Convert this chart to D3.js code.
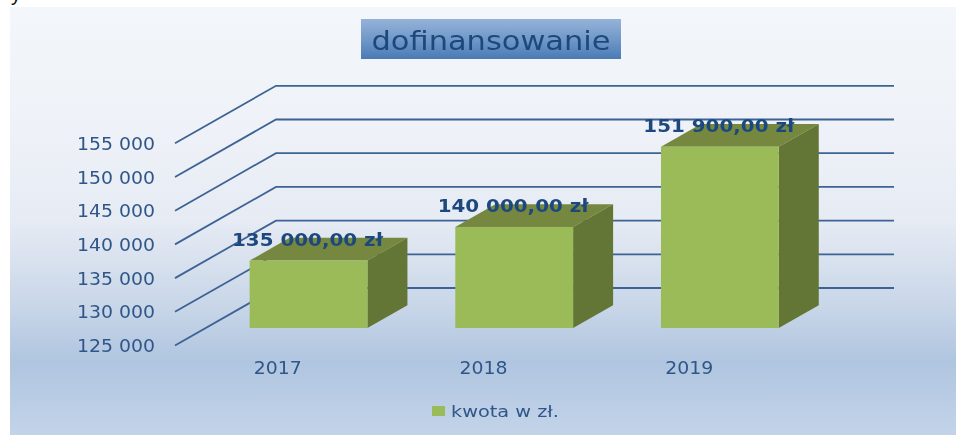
<!DOCTYPE html>
<html><head><meta charset="utf-8">
<script src="https://cdn.jsdelivr.net/npm/d3@7"></script>
<style>html,body{margin:0;padding:0;background:#fff}svg{display:block}</style></head>
<body><svg id="c" width="956" height="435"></svg>
<script>
const categories = ["2017","2018","2019"];
const values = [135000,140000,151900];
const dataLabels = ["135 000,00 zł","140 000,00 zł","151 900,00 zł"];
const yTicks = [125000,130000,135000,140000,145000,150000,155000];
const titleText = "dofinansowanie";
const legendText = "kwota w zł.";

const svg = d3.select("#c");
const F = "'DejaVu Sans',Verdana,sans-serif";
const blue = "#2f5688", dark = "#1f497d";
const defs = svg.append("defs");
const bg = defs.append("linearGradient").attr("id","bg").attr("x2",0).attr("y2",1);
[[0,"#f3f6fa"],[.3,"#eef1f7"],[.5,"#e6ebf4"],[.7,"#c8d6e8"],[.83,"#b0c5e0"],[1,"#c3d4e9"]]
  .forEach(d=>bg.append("stop").attr("offset",d[0]).attr("stop-color",d[1]));
const tg = defs.append("linearGradient").attr("id","tg").attr("x2",0).attr("y2",1);
[[0,"#95b3d9"],[.6,"#6a93c5"],[1,"#4a7ab5"]].forEach(d=>tg.append("stop").attr("offset",d[0]).attr("stop-color",d[1]));
const soft = defs.append("filter").attr("id","soft");
soft.append("feGaussianBlur").attr("stdDeviation",.45);

// clipped remnant of the text above the chart
svg.append("text").attr("x",11).attr("y",1).attr("font-family","'Liberation Sans',sans-serif")
  .attr("font-size",20).attr("fill","#111").text("y");

svg.append("rect").attr("x",10).attr("y",7).attr("width",946).attr("height",428).attr("fill","url(#bg)");
svg.append("rect").attr("x",361).attr("y",19).attr("width",260).attr("height",40).attr("fill","url(#tg)");
svg.append("text").attr("x",491).attr("y",49.5).attr("text-anchor","middle").attr("font-family",F)
  .attr("font-size",26.5).attr("fill",dark).attr("textLength",239).attr("lengthAdjust","spacingAndGlyphs")
  .attr("filter","url(#soft)").text(titleText);

// oblique 3-D frame: front plane plus a depth offset
const dx = 101, dy = -57.5;
const x = d3.scaleBand().domain(categories).range([175,792]).paddingInner(.4272).paddingOuter(.2136);
const y = d3.scaleLinear().domain([125000,155000]).range([345.5,143.3]);
const barOff = .304, barDepth = .396;

const grid = svg.append("g").attr("fill","none").attr("stroke","#3d6394").attr("stroke-width",1.8);
const line = d3.line();
yTicks.forEach(t=>{
  grid.append("path").attr("d",line([[175,y(t)],[175+dx,y(t)+dy],[175+dx+618,y(t)+dy]]));
});

const yFmt = v => d3.format(",")(v).replace(",", " ");
svg.append("g").selectAll("text").data(yTicks).join("text")
  .attr("x",155).attr("y",d=>y(d)+6.5).attr("text-anchor","end").attr("font-family",F)
  .attr("font-size",17).attr("fill",blue).attr("textLength",78).attr("lengthAdjust","spacingAndGlyphs")
  .attr("filter","url(#soft)").text(yFmt);

const bw = x.bandwidth();
categories.forEach((c,i)=>{
  const x0 = x(c)+dx*barOff, x1 = x0+bw;
  const yb = y(125000)+dy*barOff, yt = y(values[i])+dy*barOff;
  const ox = dx*barDepth, oy = dy*barDepth;
  const g = svg.append("g");
  g.append("path").attr("fill","#76883f").attr("d",line([[x0,yt],[x1,yt],[x1+ox,yt+oy],[x0+ox,yt+oy]])+"Z");
  g.append("path").attr("fill","#647635").attr("d",line([[x1,yt],[x1+ox,yt+oy],[x1+ox,yb+oy],[x1,yb]])+"Z");
  g.append("rect").attr("x",x0).attr("y",yt).attr("width",bw).attr("height",yb-yt).attr("fill","#9bbb59");
});
svg.append("g").selectAll("text").data(categories).join("text")
  .attr("x",d=>x(d)+bw/2).attr("y",374).attr("text-anchor","middle").attr("font-family",F)
  .attr("font-size",17).attr("fill",blue).attr("textLength",48).attr("lengthAdjust","spacingAndGlyphs")
  .attr("filter","url(#soft)").text(d=>d);

svg.append("g").selectAll("text").data(categories).join("text")
  .attr("x",d=>x(d)+bw/2+dx*barOff-1).attr("y",(d,i)=>y(values[i])+dy*barOff-14.5)
  .attr("text-anchor","middle").attr("font-family",F).attr("font-weight","bold")
  .attr("font-size",18.5).attr("fill",dark).attr("textLength",151).attr("lengthAdjust","spacingAndGlyphs")
  .attr("filter","url(#soft)").text((d,i)=>dataLabels[i]);

svg.append("rect").attr("x",432).attr("y",406).attr("width",13).attr("height",10).attr("fill","#9bbb59");
svg.append("text").attr("x",451).attr("y",416.5).attr("font-family",F).attr("font-size",16).attr("fill",blue)
  .attr("textLength",108).attr("lengthAdjust","spacingAndGlyphs").attr("filter","url(#soft)").text(legendText);
</script></body></html>
